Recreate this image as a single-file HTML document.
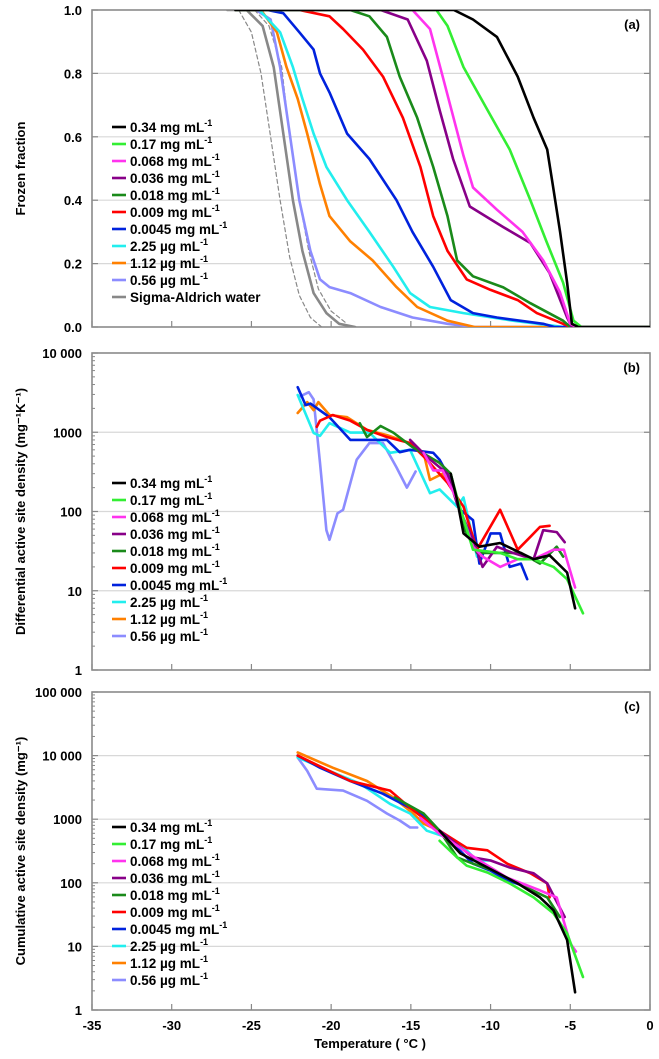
<!DOCTYPE html>
<html><head><meta charset="utf-8">
<style>
html,body{margin:0;padding:0;background:#fff;}
svg{display:block;font-family:"Liberation Sans",Arial,sans-serif;font-weight:bold;}
</style></head>
<body>
<svg id="chart" width="659" height="1059" viewBox="0 0 659 1059"></svg>
<script>
// ---------- data ----------
const seriesNames = ["0.34 mg mL","0.17 mg mL","0.068 mg mL","0.036 mg mL","0.018 mg mL","0.009 mg mL","0.0045 mg mL","2.25 µg mL","1.12 µg mL","0.56 µg mL"];
const seriesColors = ["#000000","#33ee33","#ff33ee","#880088","#1a8a1a","#ff0000","#0022dd","#22eeee","#ff8000","#8c8cff"];
const xTicks = [-35,-30,-25,-20,-15,-10,-5,0];
const aTicks = [0,0.2,0.4,0.6,0.8,1.0];
const aTickLabels = ["0.0","0.2","0.4","0.6","0.8","1.0"];
const bTicks = [1,10,100,1000,10000];
const bTickLabels = ["1","10","100","1000","10 000"];
const cTicks = [1,10,100,1000,10000,100000];
const cTickLabels = ["1","10","100","1000","10 000","100 000"];

// panel a (temperature, frozen fraction)
const a034=[[-26,1],[-12.3,1],[-11.1,.97],[-9.6,.915],[-8.3,.79],[-7.3,.66],[-6.45,.56],[-6.1,.45],[-5.64,.30],[-5.2,.14],[-4.9,.01],[-4.5,0],[0,0]];
const a017=[[-26,1],[-13.4,1],[-12.7,.95],[-11.7,.82],[-10.2,.685],[-8.8,.56],[-7.5,.40],[-6.5,.27],[-5.45,.14],[-4.8,.02],[-4.3,0],[0,0]];
const a068=[[-26,1],[-14.9,1],[-13.8,.94],[-13,.79],[-11.7,.54],[-11.1,.44],[-9.6,.37],[-8,.30],[-6.7,.21],[-5.65,.11],[-5.0,.01],[-4.6,0],[0,0]];
const a036=[[-26,1],[-16.9,1],[-15.2,.97],[-14,.84],[-13.2,.685],[-12.35,.53],[-11.3,.38],[-9.2,.315],[-7.5,.265],[-6.3,.17],[-5.2,.03],[-4.9,0],[0,0]];
const a018=[[-26,1],[-18.8,1],[-17.6,.98],[-16.5,.915],[-15.7,.79],[-14.6,.66],[-13.6,.505],[-12.7,.35],[-12.1,.21],[-11.1,.16],[-9.2,.125],[-7.5,.075],[-5.45,.02],[-5,0],[0,0]];
const a009=[[-26,1],[-22,1],[-20.1,.98],[-19.25,.94],[-18,.875],[-16.75,.79],[-15.5,.66],[-14.4,.505],[-13.6,.35],[-12.7,.24],[-11.5,.15],[-10,.117],[-8.3,.085],[-7.1,.044],[-5.45,.01],[-5,0],[0,0]];
const a0045=[[-26,1],[-24,1],[-23,.99],[-22,.93],[-21.1,.875],[-20.7,.80],[-20.1,.74],[-19,.61],[-17.6,.53],[-15.9,.40],[-14.9,.30],[-13.6,.19],[-12.5,.085],[-11.1,.044],[-9.6,.03],[-6.7,.01],[-6,0],[0,0]];
const a225=[[-26,1],[-24.5,1],[-23.2,.93],[-22.4,.82],[-21.8,.72],[-21.1,.61],[-20.3,.505],[-19,.40],[-17.6,.30],[-16.1,.19],[-15.05,.107],[-13.8,.063],[-11.7,.044],[-8.6,.02],[-5.4,0],[0,0]];
const a112=[[-26,1],[-24.4,1],[-23.4,.93],[-22.8,.82],[-22.1,.72],[-21.5,.61],[-20.7,.45],[-20.1,.35],[-18.8,.27],[-17.4,.21],[-15.9,.126],[-14.6,.063],[-12.7,.02],[-11,0],[0,0]];
const a056=[[-26,1],[-24.7,1],[-23.8,.97],[-23.2,.82],[-22.6,.61],[-22,.40],[-21.3,.24],[-20.7,.15],[-20.1,.126],[-18.8,.107],[-16.9,.063],[-14.9,.03],[-12.7,.01],[-11,0],[-0.3,0]];
const aWater=[[-26.5,1],[-25.3,1],[-24.3,.95],[-23.6,.82],[-23,.61],[-22.4,.40],[-21.8,.24],[-21.1,.107],[-20.3,.044],[-19.5,.01],[-18.5,0]];
const aWaterRep1=[[-25.8,1],[-25,.93],[-24.4,.8],[-23.8,.6],[-23.2,.4],[-22.6,.22],[-22,.1],[-21.3,.03],[-20.6,0]];
const aWaterRep2=[[-24.8,1],[-23.9,.95],[-23.1,.82],[-22.6,.6],[-22,.4],[-21.4,.24],[-20.8,.12],[-20,.05],[-19,.01]];

// panel b (temperature, differential site density)
const b034=[[-12.5,300],[-12.1,140],[-11.7,53],[-10.7,36],[-9.4,40],[-7.3,25],[-6.3,28],[-5.2,17],[-4.7,6]];
const b017=[[-12.5,300],[-12.1,150],[-11.1,33],[-9.4,30],[-8.3,25],[-7.3,25],[-6.05,20],[-5.2,14],[-4.2,5.2]];
const b068=[[-14.2,550],[-13.6,330],[-13,330],[-12.1,140],[-11.1,36],[-10.5,27],[-9.4,20],[-8.3,25],[-7.3,25],[-6.05,33],[-5.4,33],[-4.7,11]];
const b036=[[-15.05,800],[-14,490],[-12.7,300],[-12.1,125],[-11.1,44],[-10.5,20],[-9.6,36],[-8.6,30],[-7.3,25],[-6.7,58],[-5.85,55],[-5.35,41]];
const b018=[[-18.2,1300],[-17.75,870],[-16.9,1200],[-16.1,990],[-14.9,650],[-13.2,410],[-12.5,300],[-11.7,64],[-10.85,30],[-9.4,30],[-8.1,30],[-6.9,22],[-5.85,36],[-5.45,27]];
const b009=[[-20.9,1170],[-20.7,1400],[-19.9,1650],[-18.8,1400],[-17.75,1070],[-16.5,870],[-15.05,730],[-14,450],[-12.7,230],[-11.7,115],[-10.85,33],[-9.4,105],[-8.3,33],[-7.5,48],[-6.9,64],[-6.3,66]];
const b0045=[[-22.1,3700],[-21.6,2200],[-21.3,2300],[-20.1,1550],[-18.8,800],[-18,800],[-16.5,800],[-15.7,560],[-15.05,600],[-13.6,550],[-13.2,450],[-12.5,250],[-11.9,105],[-11.1,78],[-10.7,22],[-10,53],[-9.4,53],[-8.8,20],[-8.1,22],[-7.7,14]];
const b225=[[-22.1,2950],[-21.1,980],[-20.7,900],[-20.1,1300],[-18.8,990],[-17.6,990],[-16.3,550],[-15.05,600],[-13.8,170],[-13.2,190],[-12.1,115],[-11.7,150],[-10.85,27]];
const b112=[[-22.1,1750],[-21.5,2400],[-21.1,1900],[-20.8,2400],[-20.1,1650],[-19,1550],[-17.75,1070],[-16.5,920],[-15.05,730],[-14.2,550],[-13.8,250],[-13,300],[-12.7,250]];
const b056=[[-22,2800],[-21.4,3200],[-21.1,2600],[-20.7,410],[-20.3,58],[-20.1,44],[-19.6,95],[-19.25,105],[-18.4,450],[-17.6,730],[-16.75,730],[-15.9,360],[-15.25,200],[-14.7,320]];

// panel c (temperature, cumulative site density)
const c034=[[-13.2,660],[-11.9,290],[-10.2,174],[-8.3,98],[-6.9,59],[-6.05,37],[-5.2,12.6],[-4.7,1.9]];
const c017=[[-13.2,457],[-12.1,251],[-11.5,186],[-10.2,145],[-8.8,98],[-7.3,59],[-6.05,33],[-5.2,16],[-4.2,3.3]];
const c068=[[-14.4,1050],[-13.2,590],[-11.9,355],[-10.7,224],[-8.95,120],[-6.9,76],[-5.85,59],[-5,11.2],[-4.65,8.3]];
const c036=[[-13.2,660],[-11.1,251],[-10,224],[-8.8,174],[-7.3,141],[-6.45,98],[-5.35,29]];
const c018=[[-16,2190],[-14.2,1230],[-13.2,660],[-12.1,251],[-11.1,200],[-9.8,155],[-8.3,98],[-6.45,59],[-5.65,29]];
const c009=[[-22.1,10000],[-18.8,3980],[-16.3,2820],[-15.05,1510],[-13.2,660],[-11.5,355],[-10.2,324],[-8.95,200],[-7.5,141],[-6.45,98],[-6.3,59]];
const c0045=[[-22.1,10000],[-20.7,6460],[-18.8,3980],[-16.75,2510],[-15.05,1510],[-14,1050],[-13,590],[-12.1,355],[-11.1,200],[-10,155],[-8.95,110],[-7.7,85]];
const c225=[[-22.1,9330],[-20.1,5750],[-18.2,3630],[-16.3,1740],[-15.05,1230],[-14,660],[-12.7,513],[-11.5,324],[-10.85,224],[-10,224]];
const c112=[[-22.1,11200],[-19.9,6460],[-17.75,3980],[-16.1,2190],[-14.85,1230],[-14.2,850],[-13.5,710]];
const c056=[[-22.1,9330],[-21.5,5750],[-20.9,3020],[-19.25,2820],[-17.75,1950],[-16.5,1230],[-15.7,955],[-15.05,741],[-14.6,741]];

const aSeries=[a034,a017,a068,a036,a018,a009,a0045,a225,a112,a056];
const bSeries=[b034,b017,b068,b036,b018,b009,b0045,b225,b112,b056];
const cSeries=[c034,c017,c068,c036,c018,c009,c0045,c225,c112,c056];

// ---------- drawing ----------
const NS="http://www.w3.org/2000/svg";
const svg=document.getElementById('chart');
const X0=92, X1=650;
function xS(t){return X0+(t+35)/35*(X1-X0);}
function mk(tag,attrs,parent){const e=document.createElementNS(NS,tag);for(const k in attrs)e.setAttribute(k,attrs[k]);(parent||svg).appendChild(e);return e;}

const panels=[
 {id:'a',top:10,bot:327,log:false,min:0,max:1,ticks:aTicks,labels:aTickLabels,series:aSeries,title:'Frozen fraction',legY:127},
 {id:'b',top:353,bot:670,log:true,min:0,max:4,ticks:bTicks,labels:bTickLabels,series:bSeries,title:'Differential active site density  (mg⁻¹K⁻¹)',legY:483},
 {id:'c',top:692,bot:1010,log:true,min:0,max:5,ticks:cTicks,labels:cTickLabels,series:cSeries,title:'Cumulative active site density  (mg⁻¹)',legY:827}
];

panels.forEach(p=>{
  const g=mk('g',{});
  
  
  const yS=v=>{const u=p.log?Math.log10(v):v;return p.bot-(u-p.min)/(p.max-p.min)*(p.bot-p.top);};
  // grid + y ticks
  p.ticks.forEach((t,i)=>{
    const y=yS(t);
    if(i>0&&i<p.ticks.length-1||(!p.log&&i>0&&i<p.ticks.length-1)){
      const gl=mk('line',{x1:X0,x2:X1,y1:y,y2:y,stroke:'#d8d8d8','stroke-width':1.2},g);
      
      
    }
    mk('line',{x1:X0,x2:X0+6,y1:y,y2:y,stroke:'#888','stroke-width':1.2},g);
    mk('line',{x1:X1-6,x2:X1,y1:y,y2:y,stroke:'#888','stroke-width':1.2},g);
    const tl=mk('text',{x:X0-10,y:y+5,'text-anchor':'end','font-size':13,fill:'#000'},g);
    tl.textContent=p.labels[i];
    
    
  });
  if(p.log){
    for(let d=0;d<p.max;d++){for(let m=2;m<10;m++){const y=yS(Math.pow(10,d)*m);mk('line',{x1:X0,x2:X0+3,y1:y,y2:y,stroke:'#888','stroke-width':1},g);}}
  }
  // x ticks
  xTicks.forEach(t=>{const x=xS(t);mk('line',{x1:x,x2:x,y1:p.bot,y2:p.bot-6,stroke:'#888','stroke-width':1.2},g);});
  // frame
  const fr=mk('rect',{x:X0,y:p.top,width:X1-X0,height:p.bot-p.top,fill:'none',stroke:'#8a8a8a','stroke-width':1.6},g);
  
  
  // panel label
  const pl=mk('text',{x:640,y:p.top+19,'text-anchor':'end','font-size':13},g);
  pl.textContent='('+p.id+')';
  
  
  // y title
  const yt=mk('text',{x:0,y:0,'text-anchor':'middle','font-size':13,transform:`translate(25,${(p.top+p.bot)/2}) rotate(-90)`},g);
  yt.textContent=p.title;
  
  
  // clip
  const cp=mk('clipPath',{id:'clip'+p.id},g);
  mk('rect',{x:X0,y:p.top,width:X1-X0,height:p.bot-p.top},cp);
  const sg=mk('g',{'clip-path':`url(#clip${p.id})`},g);
  const drawLine=(arr,col,w,dash,name)=>{
    const d=arr.map((q,k)=>(k?'L':'M')+xS(q[0]).toFixed(1)+','+yS(q[1]).toFixed(1)).join(' ');
    const pa=mk('path',{d:d,fill:'none',stroke:col,'stroke-width':w,'stroke-linejoin':'round','stroke-linecap':'round'},sg);
    if(dash)pa.setAttribute('stroke-dasharray',dash);
    
    
  };
  if(p.id==='a'){
    drawLine(aWaterRep1,'#888',1.2,'4,3','water-replicate-1');
    drawLine(aWaterRep2,'#888',1.2,'4,3','water-replicate-2');
    drawLine(aWater,'#888888',2.6,null,'series-water');
  }
  for(let s=p.series.length-1;s>=0;s--){
    drawLine(p.series[s],seriesColors[s],2.6,null,'series-'+seriesNames[s].replace(/[ .µ]/g,'-'));
  }
  // legend
  const lg=mk('g',{},g);
  
  
  const entries=seriesNames.map((n,i)=>({n:n,c:seriesColors[i],sup:true}));
  if(p.id==='a')entries.push({n:'Sigma-Aldrich water',c:'#888888',sup:false});
  entries.forEach((e,i)=>{
    const y=p.legY+i*17;
    const it=mk('g',{},lg);
    
    
    mk('line',{x1:112,x2:126,y1:y,y2:y,stroke:e.c,'stroke-width':2.6},it);
    const tx=mk('text',{x:130,y:y+5,'font-size':13.5},it);
    tx.textContent=e.n;
    if(e.sup){const ts=mk('tspan',{dy:-6,'font-size':9},tx);ts.textContent='-1';}
  });
});
// x tick labels & title
xTicks.forEach(t=>{
  const tl=mk('text',{x:xS(t),y:1030,'text-anchor':'middle','font-size':13});
  tl.textContent=String(t);
  
  
});
const xt=mk('text',{x:370,y:1048,'text-anchor':'middle','font-size':13});
xt.textContent='Temperature ( °C )';


</script>
</body></html>
